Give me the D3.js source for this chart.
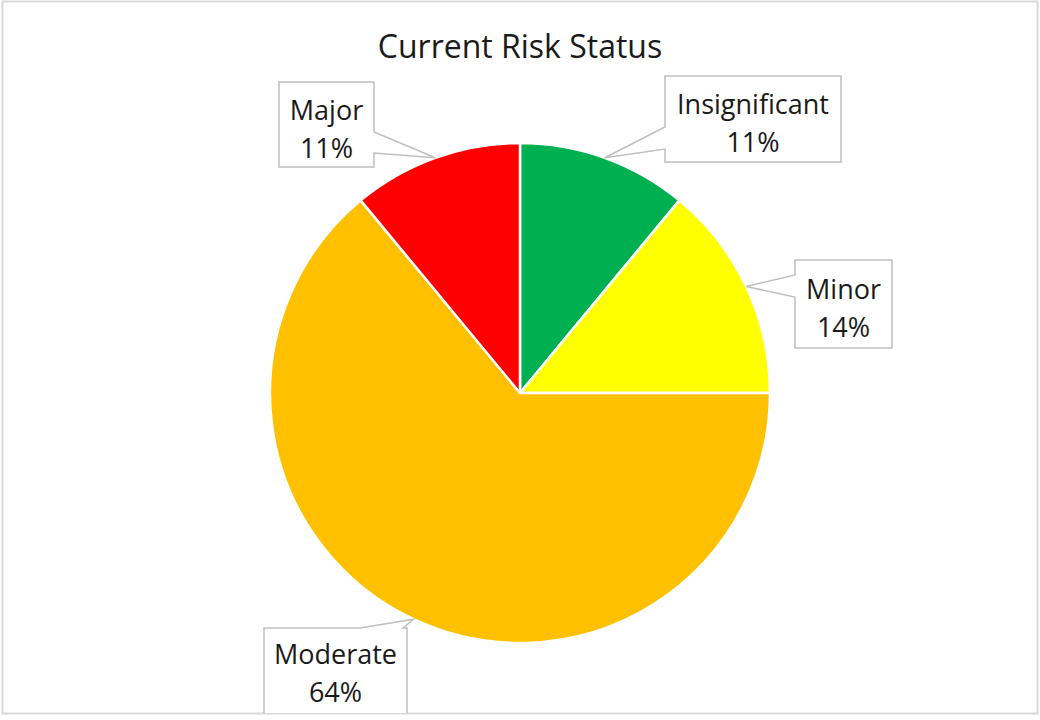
<!DOCTYPE html>
<html><head><meta charset="utf-8">
<script src="https://cdn.jsdelivr.net/npm/d3@7"></script>
<style>body{margin:0;background:#fff}svg{display:block}text{font-family:"Open Sans","Noto Sans",sans-serif;fill:#1a1a1a}</style>
</head><body>
<script>
const categories = ["Insignificant", "Minor", "Moderate", "Major"];
const values = [11, 14, 64, 11];
const colors = ["#00B050", "#FFFF00", "#FFC000", "#FF0000"];
const title = "Current Risk Status";

const W = 1040, H = 720;
const svg = d3.select("body").append("svg").attr("width", W).attr("height", H);
svg.append("rect").attr("x", 2.5).attr("y", 1.5).attr("width", 1035).attr("height", 712)
  .attr("fill", "#fff").attr("stroke", "#d9d9d9").attr("stroke-width", 2);

svg.append("clipPath").attr("id", "c").append("rect").attr("x", 3).attr("y", 2).attr("width", 1034).attr("height", 711);
const g0 = svg.append("g").attr("clip-path", "url(#c)");

svg.append("text").attr("x", 520).attr("y", 58).attr("text-anchor", "middle")
  .style("font-size", "32px").text(title);

const cx = 520, cy = 393, R = 250;
const pie = d3.pie().sort(null).value(d => d)(values);
const arc = d3.arc().innerRadius(0).outerRadius(R);
const g = g0.append("g").attr("transform", `translate(${cx},${cy})`);
g.selectAll("path").data(pie).join("path")
  .attr("d", arc).attr("fill", (d, i) => colors[i])
  .attr("stroke", "#fff").attr("stroke-width", 2.5).attr("stroke-linejoin", "round");

const boxes = [
  {b:[665,76,841,162], p:[[665,127],[665,149]], side:"v"},
  {b:[795,260,892,348], p:[[795,275],[795,297]], side:"v"},
  {b:[264,628,407,740], p:[[360,628],[403,628]], side:"h"},
  {b:[279,82,374,167], p:[[374,132],[374,153]], side:"v"}
];
pie.forEach((d, i) => {
  const a = (d.startAngle + d.endAngle) / 2;
  const tip = [cx + R * Math.sin(a), cy - R * Math.cos(a)];
  const bx = boxes[i];
  const [l, t, r, b] = bx.b;
  const pts = [];
  const [p1, p2] = bx.p;
  if (bx.side === "v" && p1[0] === l) {
    pts.push([l,t],[r,t],[r,b],[l,b],p2,tip,p1);
  } else if (bx.side === "v") {
    pts.push([l,t],[r,t],p1,tip,p2,[r,b],[l,b]);
  } else {
    pts.push([l,t],p1,tip,p2,[r,t],[r,b],[l,b]);
  }
  g0.append("path").attr("d", "M" + pts.map(p => p.join(",")).join("L") + "Z")
    .attr("fill", "#fff").attr("stroke", "#bfbfbf").attr("stroke-width", 1.5);
  const mx = (l + r) / 2;
  const ty = (bx.side === "h") ? t + 36 : (t + b) / 2 - 5;
  const tx = g0.append("text").attr("x", mx).attr("text-anchor", "middle").style("font-size", "27px");
  tx.append("tspan").attr("x", mx).attr("y", ty).text(categories[i]);
  tx.append("tspan").attr("x", mx).attr("y", ty + 38).text(values[i] + "%");
});
</script>
</body></html>
